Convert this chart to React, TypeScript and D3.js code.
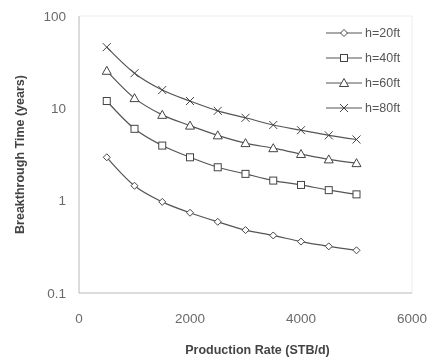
import React, { useEffect, useRef } from "react";
import * as d3 from "d3";

// production rate (STB/d)
const rates = [500, 1000, 1500, 2000, 2500, 3000, 3500, 4000, 4500, 5000];

// breakthrough time (years) per thickness
const h20 = [2.95, 1.45, 0.97, 0.74, 0.59, 0.48, 0.42, 0.36, 0.32, 0.29];
const h40 = [12, 6.0, 3.95, 2.95, 2.3, 1.95, 1.65, 1.48, 1.3, 1.17];
const h60 = [25.5, 12.9, 8.5, 6.5, 5.1, 4.2, 3.7, 3.2, 2.8, 2.55];
const h80 = [46, 24, 15.8, 12, 9.4, 7.9, 6.6, 5.8, 5.1, 4.6];

const seriesNames = ["h=20ft", "h=40ft", "h=60ft", "h=80ft"];
const markers = ["diamond", "square", "triangle", "cross"];

const xTicks = [0, 2000, 4000, 6000];
const yTicks = [0.1, 1, 10, 100];
const yTickLabels = ["0.1", "1", "10", "100"];

const App = () => {
  const svgRef = useRef<SVGSVGElement>(null);

  useEffect(() => {
    const width = 432;
    const height = 360;
    const margin = { top: 16, right: 20, bottom: 67, left: 79 };
    const w = width - margin.left - margin.right;
    const h = height - margin.top - margin.bottom;

    const svg = d3.select(svgRef.current);
    svg.selectAll("*").remove();
    svg.attr("width", width).attr("height", height);

    const g = svg
      .append("g")
      .attr("transform", `translate(${margin.left},${margin.top})`);

    const x = d3.scaleLinear().domain([0, 6000]).range([0, w]);
    const y = d3.scaleLog().domain([0.1, 100]).range([h, 0]);

    // faint frame on top/right
    g.append("line")
      .attr("x1", 0).attr("x2", w).attr("y1", 0).attr("y2", 0)
      .attr("stroke", "#ececec");
    g.append("line")
      .attr("x1", w).attr("x2", w).attr("y1", 0).attr("y2", h)
      .attr("stroke", "#ececec");

    // axes lines
    g.append("line")
      .attr("x1", 0).attr("x2", 0).attr("y1", 0).attr("y2", h)
      .attr("stroke", "#b8b8b8");
    g.append("line")
      .attr("x1", 0).attr("x2", w).attr("y1", h).attr("y2", h)
      .attr("stroke", "#b8b8b8");

    const font = "Arial, 'Liberation Sans', sans-serif";

    g.selectAll(".ytick")
      .data(yTicks)
      .enter()
      .append("text")
      .attr("x", -13)
      .attr("y", (d) => y(d))
      .attr("dy", "0.35em")
      .attr("text-anchor", "end")
      .attr("font-family", font)
      .attr("font-size", 13.5)
      .attr("fill", "#6a6a6a")
      .text((d, i) => yTickLabels[i]);

    g.selectAll(".xtick")
      .data(xTicks)
      .enter()
      .append("text")
      .attr("x", (d) => x(d))
      .attr("y", h + 30)
      .attr("text-anchor", "middle")
      .attr("font-family", font)
      .attr("font-size", 13.5)
      .attr("fill", "#6a6a6a")
      .text((d) => String(d));

    // axis titles
    svg
      .append("text")
      .attr("x", margin.left + w / 2 + 12)
      .attr("y", 354)
      .attr("text-anchor", "middle")
      .attr("font-family", font)
      .attr("font-weight", "bold")
      .attr("font-size", 12.5)
      .attr("fill", "#444")
      .text("Production Rate (STB/d)");

    svg
      .append("text")
      .attr("transform", `translate(24,${margin.top + h / 2}) rotate(-90)`)
      .attr("text-anchor", "middle")
      .attr("font-family", font)
      .attr("font-weight", "bold")
      .attr("font-size", 12.5)
      .attr("fill", "#444")
      .text("Breakthrough Time (years)");

    const allSeries = [h20, h40, h60, h80];
    const line = d3
      .line<number>()
      .x((d, i) => x(rates[i]))
      .y((d) => y(d))
      .curve(d3.curveMonotoneX);

    const drawMarker = (sel: any, type: string, cx: number, cy: number) => {
      const s = 3.5;
      if (type === "diamond") {
        sel.append("path")
          .attr("d", `M${cx},${cy - s}L${cx + s},${cy}L${cx},${cy + s}L${cx - s},${cy}Z`)
          .attr("fill", "white").attr("stroke", "#444");
      } else if (type === "square") {
        sel.append("rect")
          .attr("x", cx - 3.5).attr("y", cy - 3.5)
          .attr("width", 7).attr("height", 7)
          .attr("fill", "white").attr("stroke", "#444");
      } else if (type === "triangle") {
        sel.append("path")
          .attr("d", `M${cx},${cy - 4.5}L${cx + 4.5},${cy + 3.5}L${cx - 4.5},${cy + 3.5}Z`)
          .attr("fill", "white").attr("stroke", "#444");
      } else {
        sel.append("path")
          .attr("d", `M${cx - 4},${cy - 4}L${cx + 4},${cy + 4}M${cx - 4},${cy + 4}L${cx + 4},${cy - 4}`)
          .attr("fill", "none").attr("stroke", "#444");
      }
    };

    allSeries.forEach((vals, si) => {
      g.append("path")
        .datum(vals)
        .attr("d", line)
        .attr("fill", "none")
        .attr("stroke", "#555")
        .attr("stroke-width", 1.2);
      const mg = g.append("g");
      vals.forEach((v, i) => drawMarker(mg, markers[si], x(rates[i]), y(v)));
    });

    // legend
    const lg = svg.append("g");
    seriesNames.forEach((name, i) => {
      const ly = 33 + i * 25;
      lg.append("line")
        .attr("x1", 326).attr("x2", 362).attr("y1", ly).attr("y2", ly)
        .attr("stroke", "#555").attr("stroke-width", 1.2);
      drawMarker(lg, markers[i], 344, ly);
      lg.append("text")
        .attr("x", 365)
        .attr("y", ly)
        .attr("dy", "0.35em")
        .attr("font-family", font)
        .attr("font-size", 12.5)
        .attr("fill", "#555")
        .text(name);
    });
  }, []);

  return (
    <div style={{ position: "fixed", left: 0, top: 0 }}>
      <svg ref={svgRef} style={{ display: "block" }}></svg>
    </div>
  );
};

export default App;
